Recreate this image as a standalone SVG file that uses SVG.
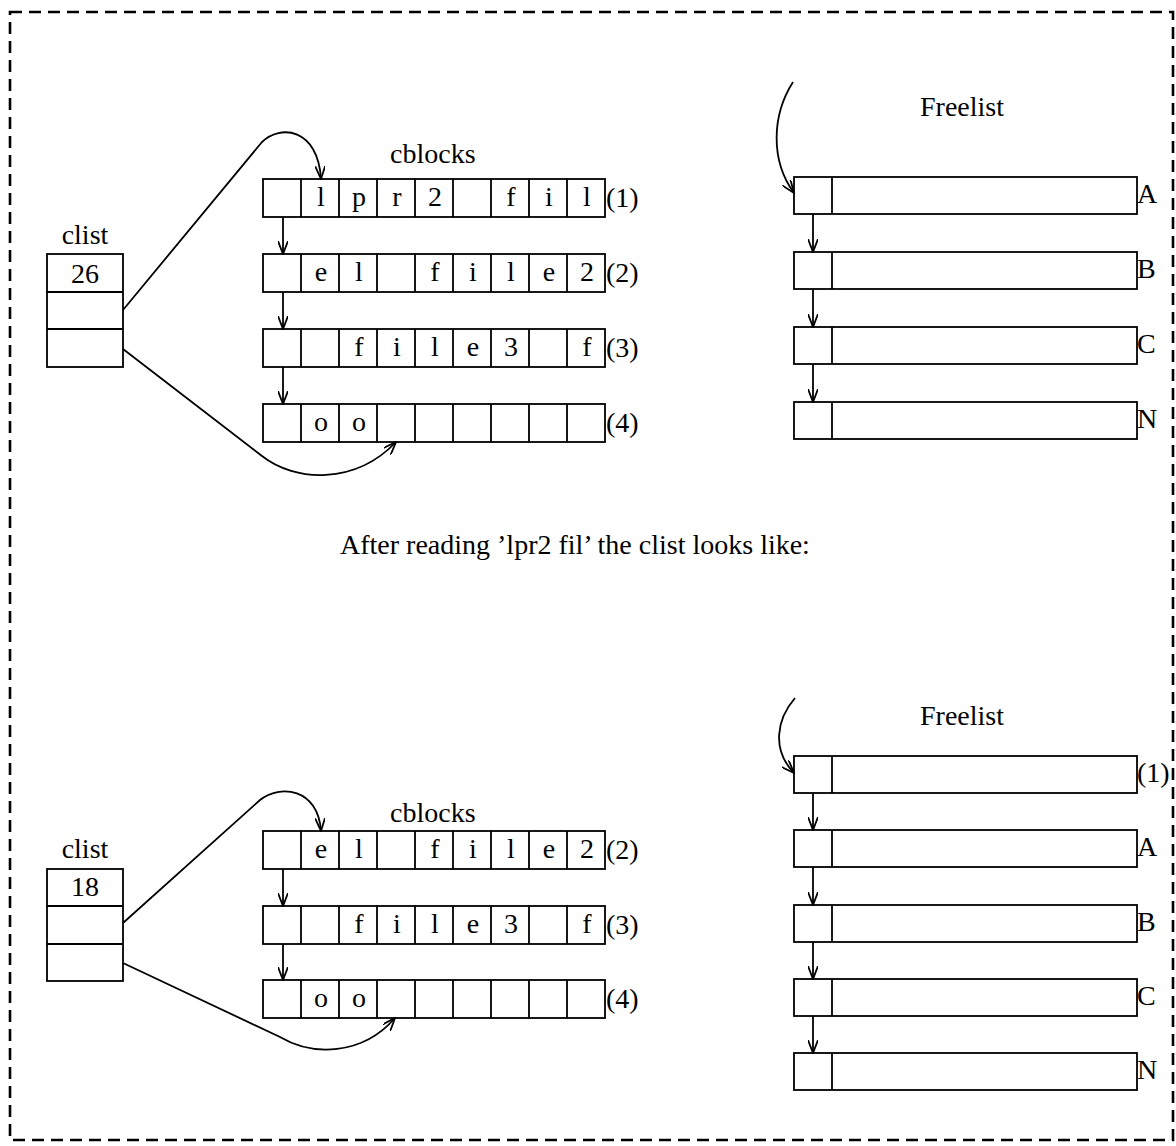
<svg xmlns="http://www.w3.org/2000/svg" width="1176" height="1146" viewBox="0 0 1176 1146">
<defs>
<style>
.t{font-family:"Liberation Serif","Times New Roman",serif;font-size:28px;fill:#000}
.c{font-family:"Liberation Serif","Times New Roman",serif;font-size:28px;fill:#000;text-anchor:middle}
.box{fill:#fff;stroke:#000;stroke-width:1.8}
.ln{fill:none;stroke:#000;stroke-width:1.8}
.ar{fill:none;stroke:#000;stroke-width:1.8;marker-end:url(#ah)}
</style>
<marker id="ah" viewBox="0 0 14 10" refX="13" refY="5" markerWidth="14" markerHeight="10" markerUnits="userSpaceOnUse" orient="auto">
<path d="M0,0 L13,5 L0,10" fill="none" stroke="#000" stroke-width="1.8"/>
</marker>
<g id="cb">
<rect class="box" x="0" y="0" width="342" height="38"/>
<path class="ln" d="M38,0V38M76,0V38M114,0V38M152,0V38M190,0V38M228,0V38M266,0V38M304,0V38"/>
</g>
<g id="fl">
<rect class="box" x="0" y="0" width="343" height="37"/>
<path class="ln" d="M38,0V37"/>
</g>
</defs>
<rect x="0" y="0" width="1176" height="1146" fill="#fff"/>
<rect x="10" y="12" width="1163" height="1128" fill="none" stroke="#000" stroke-width="2.6" stroke-dasharray="12,7"/>

<g id="clist-top">
<text class="c" x="85" y="244">clist</text>
<rect class="box" x="47" y="254" width="76" height="113"/>
<path class="ln" d="M47,292H123M47,329H123"/>
<text class="c" x="85" y="283">26</text>
</g>

<g id="cblocks-top">
<text class="t" x="390" y="163">cblocks</text>
<g id="row1-top"><use href="#cb" x="263" y="179"/>
<text class="c" y="206"><tspan x="321">l</tspan><tspan x="359">p</tspan><tspan x="397">r</tspan><tspan x="435">2</tspan><tspan x="511">f</tspan><tspan x="549">i</tspan><tspan x="587">l</tspan></text>
<text class="t" x="606" y="207">(1)</text></g>
<g id="row2-top"><use href="#cb" x="263" y="254"/>
<text class="c" y="281"><tspan x="321">e</tspan><tspan x="359">l</tspan><tspan x="435">f</tspan><tspan x="473">i</tspan><tspan x="511">l</tspan><tspan x="549">e</tspan><tspan x="587">2</tspan></text>
<text class="t" x="606" y="282">(2)</text></g>
<g id="row3-top"><use href="#cb" x="263" y="329"/>
<text class="c" y="356"><tspan x="359">f</tspan><tspan x="397">i</tspan><tspan x="435">l</tspan><tspan x="473">e</tspan><tspan x="511">3</tspan><tspan x="587">f</tspan></text>
<text class="t" x="606" y="357">(3)</text></g>
<g id="row4-top"><use href="#cb" x="263" y="404"/>
<text class="c" y="431"><tspan x="321">o</tspan><tspan x="359">o</tspan></text>
<text class="t" x="606" y="432">(4)</text></g>
</g>

<g id="freelist-top">
<text class="t" x="920" y="116">Freelist</text>
<g id="fA-top"><use href="#fl" x="794" y="177"/><text class="t" x="1137" y="203">A</text></g>
<g id="fB-top"><use href="#fl" x="794" y="252"/><text class="t" x="1137" y="278">B</text></g>
<g id="fC-top"><use href="#fl" x="794" y="327"/><text class="t" x="1137" y="353">C</text></g>
<g id="fN-top"><use href="#fl" x="794" y="402"/><text class="t" x="1137" y="428">N</text></g>
</g>

<text id="caption" class="t" x="340" y="554">After reading ’lpr2 fil’ the clist looks like:</text>

<g id="clist-bot">
<text class="c" x="85" y="858">clist</text>
<rect class="box" x="47" y="869" width="76" height="112"/>
<path class="ln" d="M47,906H123M47,944H123"/>
<text class="c" x="85" y="896">18</text>
</g>

<g id="cblocks-bot">
<text class="t" x="390" y="822">cblocks</text>
<g id="row2-bot"><use href="#cb" x="263" y="831"/>
<text class="c" y="858"><tspan x="321">e</tspan><tspan x="359">l</tspan><tspan x="435">f</tspan><tspan x="473">i</tspan><tspan x="511">l</tspan><tspan x="549">e</tspan><tspan x="587">2</tspan></text>
<text class="t" x="606" y="859">(2)</text></g>
<g id="row3-bot"><use href="#cb" x="263" y="906"/>
<text class="c" y="933"><tspan x="359">f</tspan><tspan x="397">i</tspan><tspan x="435">l</tspan><tspan x="473">e</tspan><tspan x="511">3</tspan><tspan x="587">f</tspan></text>
<text class="t" x="606" y="934">(3)</text></g>
<g id="row4-bot"><use href="#cb" x="263" y="980"/>
<text class="c" y="1007"><tspan x="321">o</tspan><tspan x="359">o</tspan></text>
<text class="t" x="606" y="1008">(4)</text></g>
</g>

<g id="freelist-bot">
<text class="t" x="920" y="725">Freelist</text>
<g id="f1-bot"><use href="#fl" x="794" y="756"/><text class="t" x="1137" y="782">(1)</text></g>
<g id="fA-bot"><use href="#fl" x="794" y="830"/><text class="t" x="1137" y="856">A</text></g>
<g id="fB-bot"><use href="#fl" x="794" y="905"/><text class="t" x="1137" y="931">B</text></g>
<g id="fC-bot"><use href="#fl" x="794" y="979"/><text class="t" x="1137" y="1005">C</text></g>
<g id="fN-bot"><use href="#fl" x="794" y="1053"/><text class="t" x="1137" y="1079">N</text></g>
</g>

<g id="connectors">
<path class="ar" d="M123,310 L262,142 C280,124 318,128 321,179"/>
<path class="ar" d="M123,349 L262,456 C295,482 355,485 396,442"/>
<path class="ar" d="M283,217V254"/>
<path class="ar" d="M283,292V329"/>
<path class="ar" d="M283,367V404"/>
<path class="ar" d="M793,82 C772,115 770,160 794,193"/>
<path class="ar" d="M813,214V252"/>
<path class="ar" d="M813,289V327"/>
<path class="ar" d="M813,364V402"/>
<path class="ar" d="M123,923 L260,800 C280,784 318,788 321,831"/>
<path class="ar" d="M123,963 L280,1037 C312,1056 362,1056 395,1018"/>
<path class="ar" d="M283,869V906"/>
<path class="ar" d="M283,944V980"/>
<path class="ar" d="M795,698 C776,720 772,750 794,773"/>
<path class="ar" d="M813,793V830"/>
<path class="ar" d="M813,867V905"/>
<path class="ar" d="M813,942V979"/>
<path class="ar" d="M813,1016V1053"/>
</g>
</svg>
